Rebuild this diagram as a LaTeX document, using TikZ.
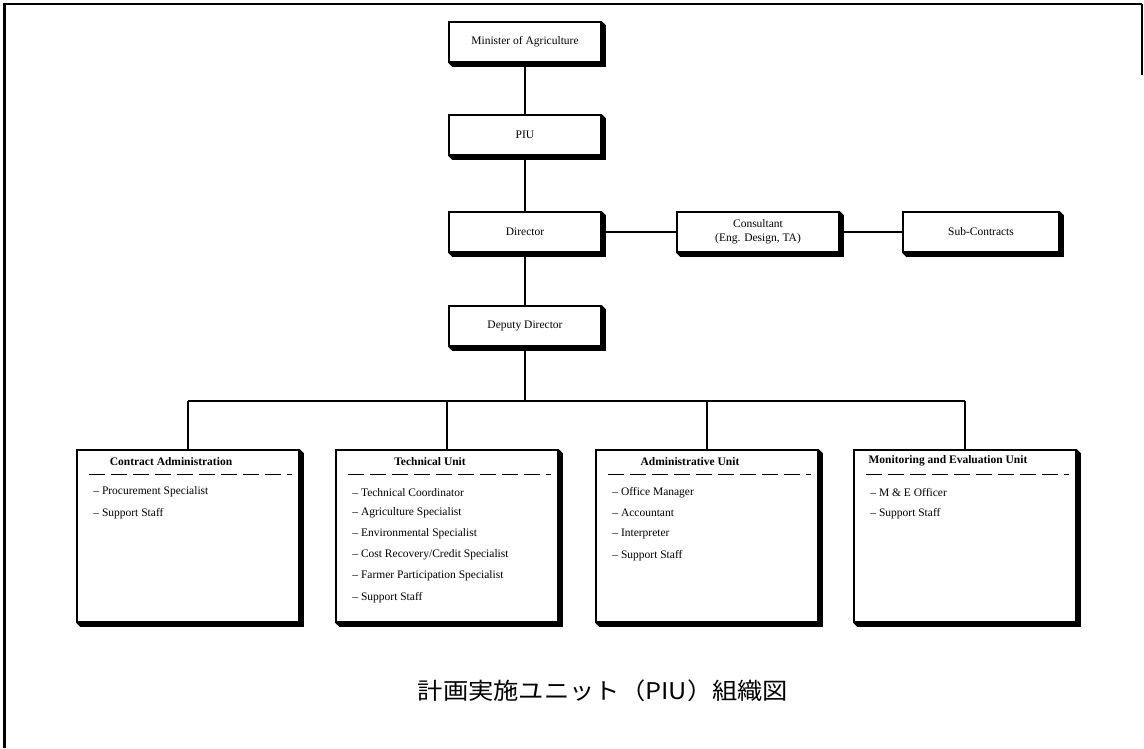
\documentclass[tikz,border=0pt]{standalone}
\usepackage{fontspec}
\setmainfont{Liberation Serif}
\newfontfamily\cjkfont{Noto Sans CJK JP}
\begin{document}
\begin{tikzpicture}[x=1pt,y=-1pt,
  box/.style={draw, line width=1.6pt, fill=white, rectangle, inner sep=0pt,
    minimum width=152pt, minimum height=40pt,
    font=\fontsize{11.5}{14}\selectfont, align=center},
  unit/.style={draw, line width=1.6pt, fill=white, rectangle, inner sep=0pt,
    minimum width=222pt, minimum height=172pt},
  link/.style={line width=1.8pt},
  unittitle/.style={font=\fontsize{11.5}{13}\selectfont\bfseries, inner sep=0pt},
  item/.style={font=\fontsize{11.5}{13}\selectfont, anchor=west, inner sep=0pt},
  sep/.style={line width=1.3pt, dash pattern=on 16pt off 6pt},
  shade/.style={fill=black},
]
\useasboundingbox (0,0) rectangle (1144,748);

% page frame
\draw[line width=3pt] (4,748) -- (4,4);
\draw[line width=2pt] (3,4) -- (1142,4);
\draw[line width=1.5pt] (1142,4) -- (1142,75);

% upper chain
\node[box] (min) at (525,42) {Minister of Agriculture};
\node[box] (piu) at (525,135) {PIU};
\node[box] (dir) at (525,232) {Director};
\node[box, minimum width=162pt] (cons) at (758,232) {Consultant\\(Eng. Design, TA)};
\node[box, minimum width=156pt] (sub) at (981,232) {Sub-Contracts};
\node[box] (dep) at (525,326) {Deputy Director};

% units
\node[unit] (ca) at (188,536) {};
\node[unit] (tu) at (447,536) {};
\node[unit] (au) at (707,536) {};
\node[unit] (me) at (965,536) {};

% connectors
\coordinate (bus) at (525,401);
\draw[link] (min) -- (piu);
\draw[link] (piu) -- (dir);
\draw[link] (dir) -- (cons);
\draw[link] (cons) -- (sub);
\draw[link] (dir) -- (dep);
\draw[link] (dep) -- (bus);
\draw[link] (ca.north |- bus) -- (me.north |- bus);
\foreach \u in {ca,tu,au,me}
  \draw[link] (\u.north |- bus) -- (\u.north);

% box shadows
\foreach \n in {min,piu,dir,cons,sub,dep,ca,tu,au,me}
  \fill[shade] (\n.north east) -- ([shift={(4,4)}]\n.north east)
    -- ([shift={(4,4)}]\n.south east) -- ([shift={(4,4)}]\n.south west)
    -- (\n.south west) -- (\n.south east) -- cycle;

% unit headings and separators
\foreach \u/\t in {ca/Contract Administration, tu/Technical Unit,
                   au/Administrative Unit, me/Monitoring and Evaluation Unit} {
  \node[unittitle] (\u t) at ([shift={(-17,12)}]\u.north) {\t};
  \draw[sep] ([shift={(13,25)}]\u.north west) -- ([shift={(-8,25)}]\u.north east);
}

% unit staff
\node[item] (ca1) at ([shift={(17,43)}]ca.north west) {\textendash\ Procurement Specialist};
\node[item] (ca2) at ([shift={(17,64)}]ca.north west) {\textendash\ Support Staff};

\node[item] (tu1) at ([shift={(17,43)}]tu.north west) {\textendash\ Technical Coordinator};
\node[item] (tu2) at ([shift={(17,64)}]tu.north west) {\textendash\ Agriculture Specialist};
\node[item] (tu3) at ([shift={(17,85)}]tu.north west) {\textendash\ Environmental Specialist};
\node[item] (tu4) at ([shift={(17,106)}]tu.north west) {\textendash\ Cost Recovery/Credit Specialist};
\node[item] (tu5) at ([shift={(17,127)}]tu.north west) {\textendash\ Farmer Participation Specialist};
\node[item] (tu6) at ([shift={(17,148)}]tu.north west) {\textendash\ Support Staff};

\node[item] (au1) at ([shift={(17,43)}]au.north west) {\textendash\ Office Manager};
\node[item] (au2) at ([shift={(17,64)}]au.north west) {\textendash\ Accountant};
\node[item] (au3) at ([shift={(17,85)}]au.north west) {\textendash\ Interpreter};
\node[item] (au4) at ([shift={(17,106)}]au.north west) {\textendash\ Support Staff};

\node[item] (me1) at ([shift={(17,43)}]me.north west) {\textendash\ M \& E Officer};
\node[item] (me2) at ([shift={(17,64)}]me.north west) {\textendash\ Support Staff};

% caption
\node[font=\cjkfont\fontsize{23}{26}\selectfont, inner sep=0pt, xscale=1.1] (cap) at (603,691)
  {計画実施ユニット（PIU）組織図};
\end{tikzpicture}
\end{document}
